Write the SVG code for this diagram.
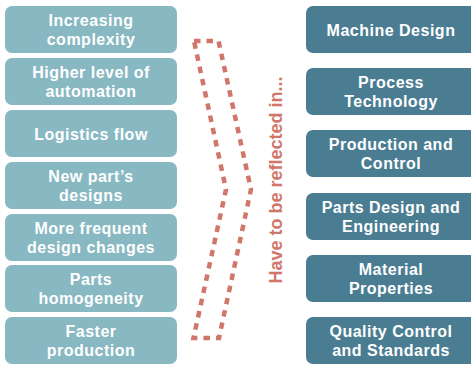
<svg xmlns="http://www.w3.org/2000/svg" width="471" height="365" viewBox="0 0 471 365">
<style>
.l rect{fill:#88B8C2}
.r rect{fill:#4A7D92}
text.t{font-family:"Liberation Sans",Arial,sans-serif;font-weight:bold;font-size:16px;letter-spacing:0.5px;fill:#FFFFFF;text-anchor:middle}
.conn path{fill:none;stroke:#D0766A;stroke-width:4.5;stroke-dasharray:6.5 6}
.side{font-family:"Liberation Sans",Arial,sans-serif;font-weight:bold;font-size:18px;fill:#D0766A;text-anchor:middle}
</style>
<rect width="471" height="365" fill="#FFFFFF"/>
<g id="n-increasing" class="l"><rect x="5" y="6" width="172" height="47" rx="7"/><text class="t" x="91" y="25.5">Increasing</text><text class="t" x="91" y="45">complexity</text></g>
<g id="n-automation" class="l"><rect x="5" y="58" width="172" height="47" rx="7"/><text class="t" x="91" y="77.5">Higher level of</text><text class="t" x="91" y="97">automation</text></g>
<g id="n-logistics" class="l"><rect x="5" y="110" width="172" height="47" rx="7"/><text class="t" x="91" y="139.5">Logistics flow</text></g>
<g id="n-newpart" class="l"><rect x="5" y="162" width="172" height="47" rx="7"/><text class="t" x="91" y="181.5">New part’s</text><text class="t" x="91" y="201">designs</text></g>
<g id="n-frequent" class="l"><rect x="5" y="214" width="172" height="47" rx="7"/><text class="t" x="91" y="233.5">More frequent</text><text class="t" x="91" y="253">design changes</text></g>
<g id="n-homogeneity" class="l"><rect x="5" y="265" width="172" height="47" rx="7"/><text class="t" x="91" y="284.5">Parts</text><text class="t" x="91" y="304">homogeneity</text></g>
<g id="n-faster" class="l"><rect x="5" y="317" width="172" height="47" rx="7"/><text class="t" x="91" y="336.5">Faster</text><text class="t" x="91" y="356">production</text></g>
<g id="connectors" class="conn"><path d="M194,41 L218.5,41 L251,189.5 L219,338 L193.5,338 L226,189.5 Z"/></g>
<g id="label-reflected"><text class="side" transform="translate(281.5,180) rotate(-90)">Have to be reflected in...</text></g>
<g id="n-machine" class="r"><rect x="306" y="6" width="175" height="47" rx="7"/><text class="t" x="391" y="35.5">Machine Design</text></g>
<g id="n-process" class="r"><rect x="306" y="68" width="175" height="47" rx="7"/><text class="t" x="391" y="87.5">Process</text><text class="t" x="391" y="107">Technology</text></g>
<g id="n-production" class="r"><rect x="306" y="130" width="175" height="47" rx="7"/><text class="t" x="391" y="149.5">Production and</text><text class="t" x="391" y="169">Control</text></g>
<g id="n-parts" class="r"><rect x="306" y="193" width="175" height="47" rx="7"/><text class="t" x="391" y="212.5">Parts Design and</text><text class="t" x="391" y="232">Engineering</text></g>
<g id="n-material" class="r"><rect x="306" y="255" width="175" height="47" rx="7"/><text class="t" x="391" y="274.5">Material</text><text class="t" x="391" y="294">Properties</text></g>
<g id="n-quality" class="r"><rect x="306" y="317" width="175" height="47" rx="7"/><text class="t" x="391" y="336.5">Quality Control</text><text class="t" x="391" y="356">and Standards</text></g>
</svg>
